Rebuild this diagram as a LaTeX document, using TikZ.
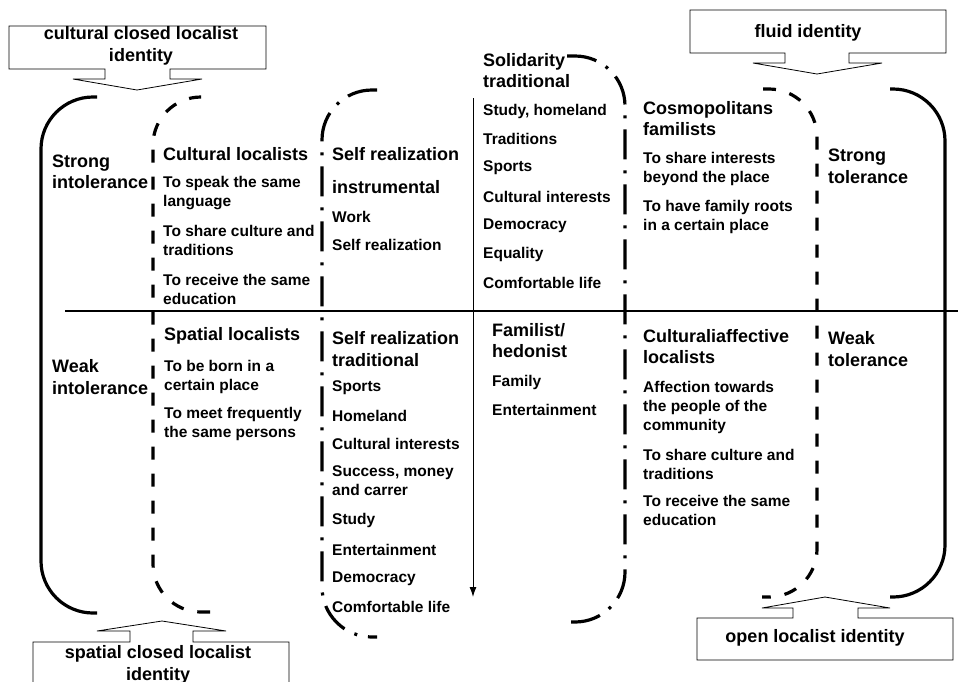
\documentclass[tikz,border=0pt]{standalone}
\usepackage{fontspec}
\setmainfont{Liberation Sans}
\usetikzlibrary{arrows.meta}
\begin{document}
\begin{tikzpicture}[x=1pt,y=-1pt,
  hd/.style={font=\bfseries\fontsize{18}{21.5}\selectfont, inner sep=0pt, anchor=west, align=left},
  it/.style={font=\bfseries\fontsize{15.5}{19}\selectfont, inner sep=0pt, anchor=west, align=left},
  solidbr/.style={line width=3.2pt, rounded corners=52pt},
  dashbr/.style={line width=3.2pt, rounded corners=48pt, dash pattern=on 13pt off 14pt},
  dotbr/.style={line width=3.2pt, rounded corners=50pt, dash pattern=on 30pt off 11pt on 3pt off 11pt},
  callout/.style={line width=0.8pt, fill=white},
  ctext/.style={font=\bfseries\fontsize{18}{22}\selectfont, inner sep=0pt, align=center}
]
\useasboundingbox (0,0) rectangle (958,681);
\clip (0,0) rectangle (958,681);

% brackets
\draw[solidbr] (97,97) -- (41,97) -- (41,613) -- (97,613);
\draw[dashbr] (200,97) -- (153,97) -- (153,612) -- (210,612);
\draw[dotbr] (377,90) -- (322,90) -- (322,637) -- (377,637);
\draw[dotbr] (567,56) -- (625,56) -- (625,622) -- (570,622);
\draw[dashbr] (763,89) -- (817,89) -- (817,597) -- (762,597);
\draw[solidbr] (890,89) -- (945,89) -- (945,597) -- (890,597);

% divider and arrow
\draw[line width=1.2pt] (65,311) -- (958,311);
\coordinate (atop) at (473,98);
\coordinate (abot) at (473,597);
\draw[line width=1pt,-{Latex[length=10pt,width=7pt]}] (atop) -- (abot);

% callouts
\draw[callout] (9,26) -- (266,26) -- (266,69) -- (170,69) -- (170,79) -- (202,79) -- (137,90) -- (73,79) -- (105,79) -- (105,69) -- (9,69) -- cycle;
\draw[callout] (690,10) -- (946,10) -- (946,53) -- (849,53) -- (849,63) -- (882,63) -- (817,74) -- (753,63) -- (785,63) -- (785,53) -- (690,53) -- cycle;
\draw[callout] (33,700) -- (33,642) -- (130,642) -- (130,631) -- (97,631) -- (162,621) -- (226,631) -- (193,631) -- (193,642) -- (289,642) -- (289,700) -- cycle;
\draw[callout] (697,660) -- (697,618) -- (793,618) -- (793,608) -- (762,608) -- (825,597) -- (890,608) -- (858,608) -- (858,618) -- (953,618) -- (953,660) -- cycle;
\node[ctext] (t1) at (141,46) {cultural closed localist\\identity};
\node[ctext] (t2) at (808,33) {fluid identity};
\node[ctext] (t3) at (158,665) {spatial closed localist\\identity};
\node[ctext] (t4) at (815,638) {open localist identity};

% column A
\node[hd] (si) at (52,172) {Strong\\intolerance};
\node[hd] (wi) at (52,377) {Weak\\intolerance};

% column B
\node[hd] (cl) at (163,154) {Cultural localists};
\node[it] (b1) at (163,193.5) {To speak the same\\language};
\node[it] (b2) at (163,240.5) {To share culture and\\traditions};
\node[it] (b3) at (163,289) {To receive the same\\education};
\node[hd] (sl) at (164,336) {Spatial localists};
\node[it] (b4) at (164,376.5) {To be born in a\\certain place};
\node[it] (b5) at (164,423.5) {To meet frequently\\the same persons};

% column C
\node[hd] (sr1) at (332,154) {Self realization};
\node[hd] (ins) at (332,187) {instrumental};
\node[it] (c1) at (332,217) {Work};
\node[it] (c2) at (332,245) {Self realization};
\node[hd] (sr2) at (332,349) {Self realization\\traditional};
\node[it] (c3) at (332,388) {Sports};
\node[it] (c4) at (332,416) {Homeland};
\node[it] (c5) at (332,444) {Cultural interests};
\node[it] (c6) at (332,481) {Success, money\\and carrer};
\node[it] (c7) at (332,520) {Study};
\node[it] (c8) at (332,550) {Entertainment};
\node[it] (c9) at (332,579) {Democracy};
\node[it] (c10) at (332,607) {Comfortable life};

% column D
\node[hd] (sol) at (483,70.5) {Solidarity\\traditional};
\node[it] (d1) at (483,111) {Study, homeland};
\node[it] (d2) at (483,139) {Traditions};
\node[it] (d3) at (483,168) {Sports};
\node[it] (d4) at (483,197) {Cultural interests};
\node[it] (d5) at (483,226) {Democracy};
\node[it] (d6) at (483,254) {Equality};
\node[it] (d7) at (483,283) {Comfortable life};
\node[hd] (fam) at (492,340.5) {Familist/\\hedonist};
\node[it] (d8) at (492,382) {Family};
\node[it] (d9) at (492,410) {Entertainment};

% column E
\node[hd] (cos) at (643,118.5) {Cosmopolitans\\familists};
\node[it] (e1) at (643,168.5) {To share interests\\beyond the place};
\node[it] (e2) at (643,217) {To have family roots\\in a certain place};
\node[hd] (caf) at (643,346.5) {Culturaliaffective\\localists};
\node[it] (e3) at (643,407) {Affection towards\\the people of the\\community};
\node[it] (e4) at (643,464) {To share culture and\\traditions};
\node[it] (e5) at (643,510.5) {To receive the same\\education};

% column F
\node[hd] (st) at (828,166.5) {Strong\\tolerance};
\node[hd] (wt) at (828,349) {Weak\\tolerance};
\end{tikzpicture}
\end{document}
